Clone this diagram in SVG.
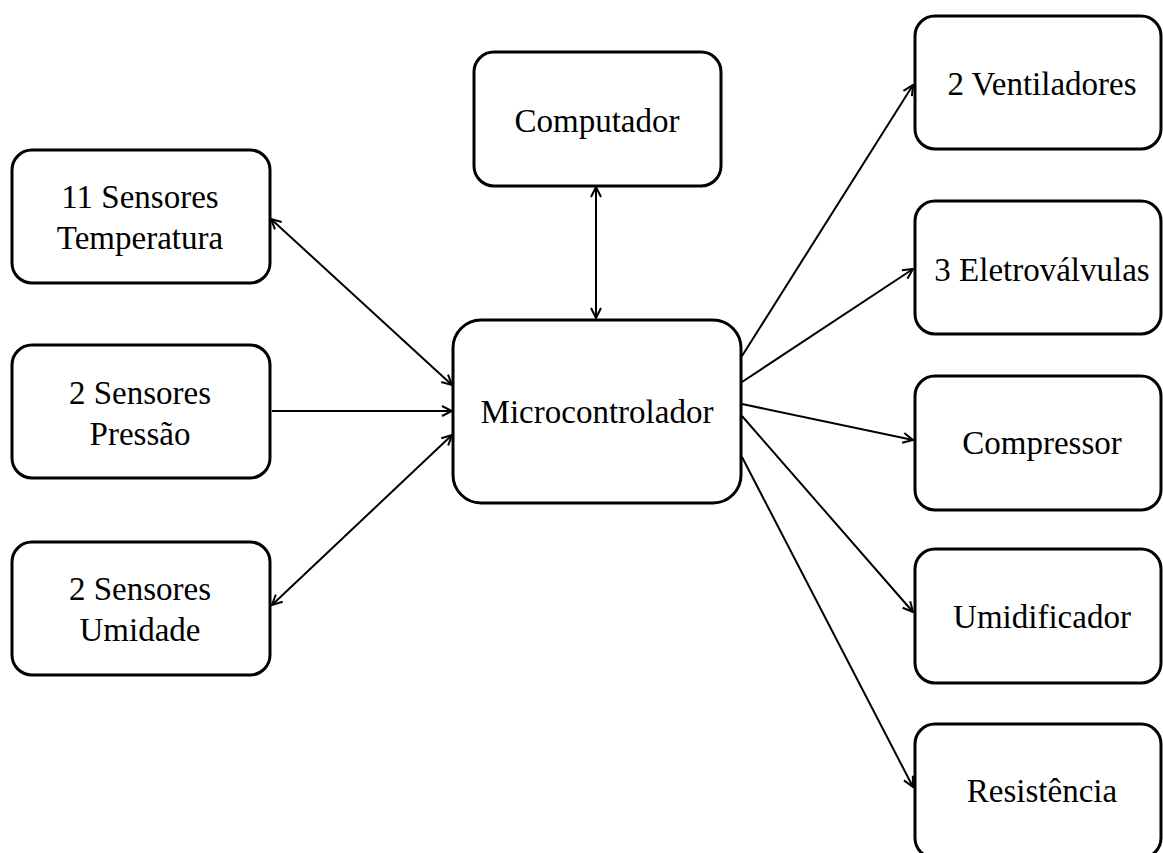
<svg xmlns="http://www.w3.org/2000/svg" width="1163" height="853" viewBox="0 0 1163 853">
<defs>
<style>
.box{fill:#fff;stroke:#000;stroke-width:3}
.t{font-family:"Liberation Serif","Times New Roman",serif;font-size:33px;fill:#000;text-anchor:middle}
.c{stroke:#000;stroke-width:2;fill:none}
</style>
<marker id="ah" viewBox="0 0 12 12" refX="11" refY="6" markerWidth="12" markerHeight="12" markerUnits="userSpaceOnUse" orient="auto-start-reverse">
<path d="M1,1 L11,6 L1,11" fill="none" stroke="#000" stroke-width="2"/>
</marker>
</defs>
<rect width="1163" height="853" fill="#fff"/>
<g id="connectors">
<line class="c" x1="271" y1="219" x2="452" y2="385" marker-start="url(#ah)" marker-end="url(#ah)"/>
<line class="c" x1="272" y1="411" x2="452" y2="411" marker-end="url(#ah)"/>
<line class="c" x1="452" y1="435" x2="272" y2="605" marker-start="url(#ah)" marker-end="url(#ah)"/>
<line class="c" x1="596" y1="187" x2="596" y2="318" marker-start="url(#ah)" marker-end="url(#ah)"/>
<line class="c" x1="742" y1="356" x2="913" y2="85" marker-end="url(#ah)"/>
<line class="c" x1="742" y1="382" x2="913" y2="269" marker-end="url(#ah)"/>
<line class="c" x1="742" y1="404" x2="913" y2="440" marker-end="url(#ah)"/>
<line class="c" x1="742" y1="416" x2="913" y2="612" marker-end="url(#ah)"/>
<line class="c" x1="742" y1="457" x2="913" y2="787" marker-end="url(#ah)"/>
</g>
<g id="n-temp"><rect class="box" x="12" y="150" width="258" height="133" rx="20"/><text class="t" x="140" y="208">11 Sensores</text><text class="t" x="140" y="249">Temperatura</text></g>
<g id="n-pressao"><rect class="box" x="12" y="345" width="258" height="133" rx="20"/><text class="t" x="140" y="404">2 Sensores</text><text class="t" x="140" y="445">Pressão</text></g>
<g id="n-umidade"><rect class="box" x="12" y="542" width="258" height="133" rx="20"/><text class="t" x="140" y="600">2 Sensores</text><text class="t" x="140" y="641">Umidade</text></g>
<g id="n-computador"><rect class="box" x="474" y="52" width="247" height="134" rx="20"/><text class="t" x="597" y="132">Computador</text></g>
<g id="n-micro"><rect class="box" x="453" y="320" width="288" height="183" rx="28"/><text class="t" x="597" y="423">Microcontrolador</text></g>
<g id="n-vent"><rect class="box" x="915" y="16" width="246" height="133" rx="20"/><text class="t" x="1042" y="95">2 Ventiladores</text></g>
<g id="n-eletro"><rect class="box" x="915" y="201" width="246" height="133" rx="20"/><text class="t" x="1042" y="281">3 Eletroválvulas</text></g>
<g id="n-comp"><rect class="box" x="915" y="376" width="246" height="134" rx="20"/><text class="t" x="1042" y="454">Compressor</text></g>
<g id="n-umid"><rect class="box" x="915" y="549" width="246" height="134" rx="20"/><text class="t" x="1042" y="628">Umidificador</text></g>
<g id="n-resist"><rect class="box" x="915" y="724" width="246" height="134" rx="20"/><text class="t" x="1042" y="802">Resistência</text></g>
</svg>
